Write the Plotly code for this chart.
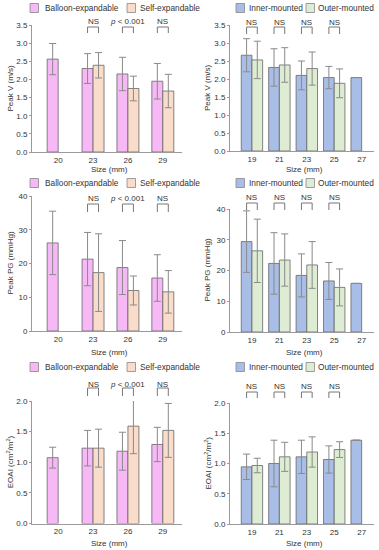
import plotly.graph_objects as go

W, H = 379, 550

# ---------------- data ----------------
size_be = ["20", "23", "26", "29"]
size_mount = ["19", "21", "23", "25", "27"]

peakv_balloon = [2.56, 2.30, 2.15, 1.95]
peakv_balloon_sd = [0.43, 0.41, 0.46, 0.49]
peakv_self = [None, 2.39, 1.75, 1.68]
peakv_self_sd = [None, 0.35, 0.34, 0.46]

peakpg_balloon = [26.1, 21.3, 18.8, 15.7]
peakpg_balloon_sd = [9.4, 7.9, 8.0, 6.9]
peakpg_self = [None, 17.3, 12.0, 11.6]
peakpg_self_sd = [None, 11.5, 4.3, 6.3]

eoai_balloon = [1.075, 1.23, 1.18, 1.29]
eoai_balloon_sd = [0.17, 0.29, 0.31, 0.28]
eoai_self = [None, 1.23, 1.59, 1.52]
eoai_self_sd = [None, 0.31, 0.45, 0.44]

peakv_inner = [2.66, 2.32, 2.10, 2.04, 2.04]
peakv_inner_sd = [0.46, 0.52, 0.40, 0.31, None]
peakv_outer = [2.53, 2.39, 2.29, 1.88, None]
peakv_outer_sd = [0.52, 0.48, 0.46, 0.40, None]

peakpg_inner = [29.4, 22.3, 18.4, 16.6, 15.8]
peakpg_inner_sd = [10.0, 10.0, 7.0, 6.0, None]
peakpg_outer = [26.4, 23.4, 21.8, 14.5, None]
peakpg_outer_sd = [10.3, 8.5, 7.6, 6.0, None]

eoai_inner = [0.945, 1.00, 1.11, 1.066, 1.385]
eoai_inner_sd = [0.21, 0.385, 0.275, 0.225, None]
eoai_outer = [0.967, 1.11, 1.19, 1.23, None]
eoai_outer_sd = [0.12, 0.24, 0.25, 0.13, None]

sig_be = ["", "NS", "<i>p</i> < 0.001", "NS"]
sig_mount = ["NS", "NS", "NS", "NS", ""]

ytitles = ["Peak V (m/s)", "Peak PG (mmHg)", "EOAI (cm<sup>2</sup>/m<sup>2</sup>)"]
yranges = [[0, 3.5], [0, 40], [0, 2.0]]
ydticks = [0.5, 10, 0.5]
yfmt = [".1f", "d", ".1f"]

# ---------------- styles ----------------
FONT = "Liberation Sans, Arial, sans-serif"
TXT = "#333333"
C_BAL, C_SELF = "#F6B9F6", "#F9DCC9"
C_IN, C_OUT = "#A9BEE6", "#DDECD3"
EDGE = "#666666"
ERR = "#8a8a8a"
FS = 8
FS_LEG = 8.3
FS_TITLE = 8

def px_x(p):
    return p / W

def px_y(p):
    return 1 - p / H

left_x = (32, 182)
right_x = (230, 374)
rows_left = [(152, 25), (331, 196), (523.5, 401)]
rows_right = [(151, 25), (332, 209), (524, 403)]

fig = go.Figure()
shapes, annots = [], []

data_left = [
    (peakv_balloon, peakv_balloon_sd, peakv_self, peakv_self_sd),
    (peakpg_balloon, peakpg_balloon_sd, peakpg_self, peakpg_self_sd),
    (eoai_balloon, eoai_balloon_sd, eoai_self, eoai_self_sd),
]
data_right = [
    (peakv_inner, peakv_inner_sd, peakv_outer, peakv_outer_sd),
    (peakpg_inner, peakpg_inner_sd, peakpg_outer, peakpg_outer_sd),
    (eoai_inner, eoai_inner_sd, eoai_outer, eoai_outer_sd),
]

legend_y = [8, 183, 367]
sig_text_y_left = [21, 198, 384]
br_left = [(27, 33), (204, 212), (388, 396)]
sig_text_y_right = [22, 197, 386]
br_right = [(27, 34), (203, 210), (392, 398)]
xtitle_y = [169, 352, 543]

def add_panel(idx, cats, vals, xgeom, ygeom, bw, colors, names, sig, sig_ty, br, leg, xr, row):
    ax = str(idx) if idx > 1 else ""
    a, asd, b, bsd = vals
    for k, (v, sd, col, off) in enumerate([(a, asd, colors[0], -bw), (b, bsd, colors[1], 0.0)]):
        fig.add_trace(go.Bar(
            x=cats, y=v, width=bw, offset=off,
            marker=dict(color=col, line=dict(color=EDGE, width=0.8)),
            error_y=dict(type="data", array=sd, visible=True, color=ERR, thickness=1, width=3.5),
            xaxis="x" + ax, yaxis="y" + ax, showlegend=False, name=names[k],
        ))
    x0, x1 = xgeom
    yz, yt = ygeom
    fig.layout["xaxis" + ax] = dict(
        domain=[px_x(x0), px_x(x1)], anchor="y" + ax, type="category", range=xr,
        showline=True, linecolor="#9a9a9a", linewidth=1, ticks="", showgrid=False,
        tickfont=dict(family=FONT, size=FS, color=TXT), zeroline=False, automargin=False,
    )
    fig.layout["yaxis" + ax] = dict(
        domain=[px_y(yz), px_y(yt)], anchor="x" + ax, range=yranges[row],
        dtick=ydticks[row], tick0=0, tickformat=yfmt[row],
        showline=True, linecolor="#9a9a9a", linewidth=1, ticks="outside", ticklen=2,
        tickcolor="#9a9a9a", showgrid=False, zeroline=False, automargin=False,
        tickfont=dict(family=FONT, size=FS, color=TXT),
    )
    for i, s in enumerate(sig):
        if not s:
            continue
        xa, xb = i - bw / 2, i + bw / 2
        ytop, ybot = px_y(br[0]), px_y(br[1])
        for (p0, q0, p1, q1) in [(xa, ytop, xb, ytop), (xa, ytop, xa, ybot), (xb, ytop, xb, ybot)]:
            shapes.append(dict(type="line", xref="x" + ax, yref="paper", x0=p0, y0=q0, x1=p1, y1=q1,
                               line=dict(color="#777777", width=1)))
        annots.append(dict(text=s, xref="x" + ax, yref="paper", x=i, y=px_y(sig_ty), showarrow=False,
                           font=dict(family=FONT, size=FS, color=TXT), xanchor="center", yanchor="middle"))
    for (bx, tx, col, nm) in leg:
        shapes.append(dict(type="rect", xref="paper", yref="paper",
                           x0=px_x(bx), x1=px_x(bx + 8.5), y0=px_y(legend_y[row] - 4.5), y1=px_y(legend_y[row] + 4.5),
                           fillcolor=col, line=dict(color="#888888", width=0.8)))
        annots.append(dict(text=nm, xref="paper", yref="paper", x=px_x(tx), y=px_y(legend_y[row]),
                           showarrow=False, xanchor="left", yanchor="middle",
                           font=dict(family=FONT, size=FS_LEG, color=TXT)))
    annots.append(dict(text="Size (mm)", xref="paper", yref="paper", x=px_x((x0 + x1) / 2 + 2),
                       y=px_y(xtitle_y[row]), showarrow=False, xanchor="center", yanchor="middle",
                       font=dict(family=FONT, size=FS_TITLE, color=TXT)))
    ytx = 10 if idx % 2 == 1 else 207
    annots.append(dict(text=ytitles[row], xref="paper", yref="paper", x=px_x(ytx),
                       y=px_y((yz + yt) / 2), showarrow=False, textangle=-90,
                       xanchor="center", yanchor="middle",
                       font=dict(family=FONT, size=FS_TITLE, color=TXT)))

for r in range(3):
    add_panel(2 * r + 1, size_be, data_left[r], left_x, rows_left[r], 0.315,
              (C_BAL, C_SELF), ("Balloon-expandable", "Self-expandable"), sig_be,
              sig_text_y_left[r], br_left[r],
              [(30, 43, C_BAL, "Balloon-expandable"), (127, 138, C_SELF, "Self-expandable")],
              [-0.75, 3.55], r)
    add_panel(2 * r + 2, size_mount, data_right[r], right_x, rows_right[r], 0.39,
              (C_IN, C_OUT), ("Inner-mounted", "Outer-mounted"), sig_mount,
              sig_text_y_right[r], br_right[r],
              [(236, 247, C_IN, "Inner-mounted"), (306, 316, C_OUT, "Outer-mounted")],
              [-0.8, 4.45], r)

fig.update_layout(
    width=W, height=H, margin=dict(l=0, r=0, t=0, b=0),
    paper_bgcolor="white", plot_bgcolor="white",
    barmode="overlay", showlegend=False,
    shapes=shapes, annotations=annots,
    font=dict(family=FONT, color=TXT),
)

fig.write_html(
    "out.html",
    config={"displayModeBar": False},
    post_script="document.body.style.margin='0';document.body.style.overflow='hidden';",
)
